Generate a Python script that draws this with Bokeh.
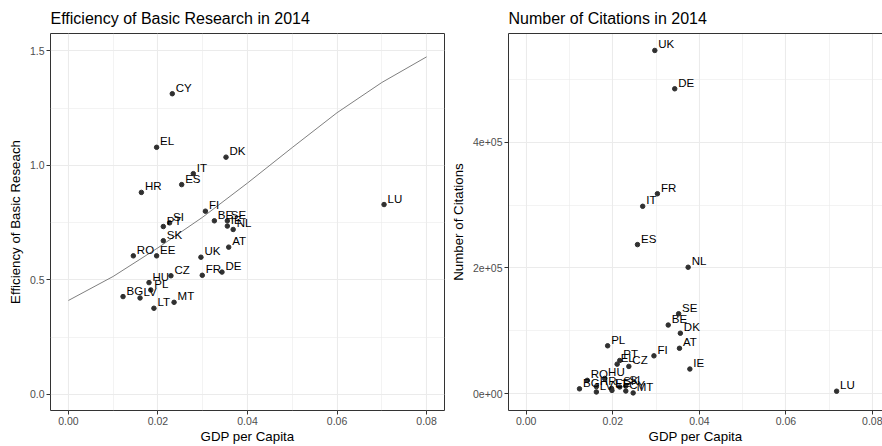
from bokeh.plotting import figure
from bokeh.layouts import row
from bokeh.models import Range1d, FixedTicker, PrintfTickFormatter, ColumnDataSource, LinearAxis
from bokeh.embed import file_html
from bokeh.resources import INLINE
from bokeh.core.properties import value

# ---- Left panel: efficiency of basic research ----
eff_country = ["CY", "EL", "DK", "IT", "ES", "HR", "LU", "FI", "BE", "SE", "IE", "NL",
               "SI", "PT", "SK", "AT", "RO", "EE", "UK", "CZ", "FR", "DE", "HU", "PL",
               "BG", "LV", "MT", "LT"]
eff_gdp = [0.0232, 0.0197, 0.0352, 0.0279, 0.0253, 0.0163, 0.0705, 0.0306, 0.0326, 0.0355,
           0.0355, 0.0368, 0.0226, 0.0212, 0.0212, 0.0358, 0.0145, 0.0197, 0.0296, 0.0229,
           0.0299, 0.0343, 0.0180, 0.0184, 0.0122, 0.0160, 0.0236, 0.0191]
eff_value = [1.313, 1.079, 1.036, 0.964, 0.916, 0.882, 0.829, 0.800, 0.758, 0.758,
             0.735, 0.720, 0.749, 0.733, 0.671, 0.643, 0.605, 0.605, 0.599, 0.518,
             0.520, 0.534, 0.488, 0.456, 0.427, 0.421, 0.402, 0.376]

fit_gdp = [0.0, 0.01, 0.02, 0.03, 0.04, 0.05, 0.06, 0.07, 0.08]
fit_value = [0.410, 0.515, 0.640, 0.774, 0.923, 1.078, 1.230, 1.362, 1.474]

# ---- Right panel: number of citations ----
cit_country = ["UK", "DE", "FR", "IT", "ES", "NL", "SE", "BE", "DK", "AT", "PL", "FI",
               "IE", "LU", "PT", "EL", "CZ", "RO", "HU", "BG", "HR", "LV", "EE", "LT",
               "SK", "SI", "CY", "MT"]
cit_gdp = [0.0297, 0.0343, 0.0303, 0.0269, 0.0257, 0.0374, 0.0352, 0.0328, 0.0356, 0.0354,
           0.0188, 0.0295, 0.0378, 0.0717, 0.0216, 0.0210, 0.0237, 0.0141, 0.0181, 0.0123,
           0.0162, 0.0162, 0.0197, 0.0198, 0.0216, 0.0230, 0.0230, 0.0247]
cit_value = [546000, 485000, 318000, 298000, 237000, 201000, 127000, 109000, 96000, 72000,
             76000, 60000, 39000, 3700, 52600, 46800, 43200, 21000, 24000, 7500,
             11000, 2500, 8000, 5000, 10500, 12000, 4000, 1000]

x_ticks = [0.0, 0.02, 0.04, 0.06, 0.08]
x_minor = [0.01, 0.03, 0.05, 0.07]
eff_ticks = [0.0, 0.5, 1.0, 1.5]
eff_minor = [0.25, 0.75, 1.25]
cit_ticks = [0, 200000, 400000]
cit_minor = [100000, 300000, 500000]
cit_tick_labels = ["0e+00", "2e+05", "4e+05"]

FONT = "Liberation Sans"
BORDER = "#333333"


def style(p, xt, xm, yt, ym):
    p.background_fill_color = "white"
    p.border_fill_color = "white"
    p.outline_line_color = BORDER
    p.outline_line_width = 1
    p.title.text_font = FONT
    p.title.text_font_size = "16px"
    p.title.text_font_style = "normal"
    p.title.text_color = "black"
    p.title.standoff = 13
    p.title.offset = 0
    p.xaxis.ticker = FixedTicker(ticks=xt, minor_ticks=xm)
    p.yaxis.ticker = FixedTicker(ticks=yt, minor_ticks=ym)
    for ax in (p.xaxis[0], p.yaxis[0]):
        ax.axis_line_color = None
        ax.major_tick_line_color = BORDER
        ax.major_tick_out = 4
        ax.major_tick_in = 0
        ax.minor_tick_out = 0
        ax.minor_tick_in = 0
        ax.minor_tick_line_color = None
        ax.major_label_text_font = FONT
        ax.major_label_text_font_size = "10.5px"
        ax.major_label_text_color = "#4D4D4D"
        ax.major_label_standoff = 2
        ax.axis_label_text_font = FONT
        ax.axis_label_text_font_size = "13.3px"
        ax.axis_label_text_font_style = "normal"
        ax.axis_label_text_color = "black"
    p.xaxis[0].axis_label_standoff = 1
    p.yaxis[0].axis_label_standoff = 4
    for g in (p.xgrid[0], p.ygrid[0]):
        g.grid_line_color = "#EBEBEB"
        g.grid_line_width = 1.1
        g.minor_grid_line_color = "#EBEBEB"
        g.minor_grid_line_width = 0.6


def labels(p, src):
    p.text("x", "y", text="label", source=src, x_offset=3.5, y_offset=0,
           text_font=value(FONT), text_font_size="11.5px", text_color="black",
           text_align="left", text_baseline="bottom")


# Left figure
p1 = figure(width=446, height=446, output_backend="svg", toolbar_location=None,
            x_range=Range1d(-0.004, 0.084), y_range=Range1d(-0.0705, 1.576),
            title="Efficiency of Basic Research in 2014",
            x_axis_label="GDP per Capita", y_axis_label="Efficiency of Basic Reseach",
            min_border_left=50, min_border_right=2, min_border_top=33, min_border_bottom=36)
style(p1, x_ticks, x_minor, eff_ticks, eff_minor)
p1.xaxis.formatter = PrintfTickFormatter(format="%.2f")
p1.yaxis.formatter = PrintfTickFormatter(format="%.1f")

src1 = ColumnDataSource(dict(x=eff_gdp, y=eff_value, label=eff_country))
p1.line(fit_gdp, fit_value, line_color="#7F7F7F", line_width=1)
p1.scatter("x", "y", source=src1, size=4.5, fill_color="#303030", line_color="#303030")
labels(p1, src1)

# Right figure (its right edge is cut off by the picture, as in the original)
p2 = figure(width=436, height=446, output_backend="svg", toolbar_location=None,
            x_range=Range1d(-0.0041, 0.0823), y_range=Range1d(-27000, 573000),
            title="Number of Citations in 2014",
            x_axis_label="GDP per Capita", y_axis_label="Number of Citations",
            min_border_left=62, min_border_right=0, min_border_top=33, min_border_bottom=36)
style(p2, x_ticks, x_minor, cit_ticks, cit_minor)
p2.outline_line_color = None
p2.xaxis[0].axis_line_color = BORDER
p2.yaxis[0].axis_line_color = BORDER
top = LinearAxis(ticker=FixedTicker(ticks=[]), axis_line_color=BORDER,
                 major_tick_line_color=None, minor_tick_line_color=None,
                 major_tick_out=0, major_tick_in=0, minor_tick_out=0, minor_tick_in=0,
                 major_label_standoff=0)
p2.add_layout(top, "above")
p2.xaxis.formatter = PrintfTickFormatter(format="%.2f")
p2.yaxis.major_label_overrides = {t: l for t, l in zip(cit_ticks, cit_tick_labels)}

src2 = ColumnDataSource(dict(x=cit_gdp, y=cit_value, label=cit_country))
p2.scatter("x", "y", source=src2, size=4.5, fill_color="#303030", line_color="#303030")
labels(p2, src2)

layout = row(p1, p2)
open("out.html", "w").write(file_html(layout, INLINE))
